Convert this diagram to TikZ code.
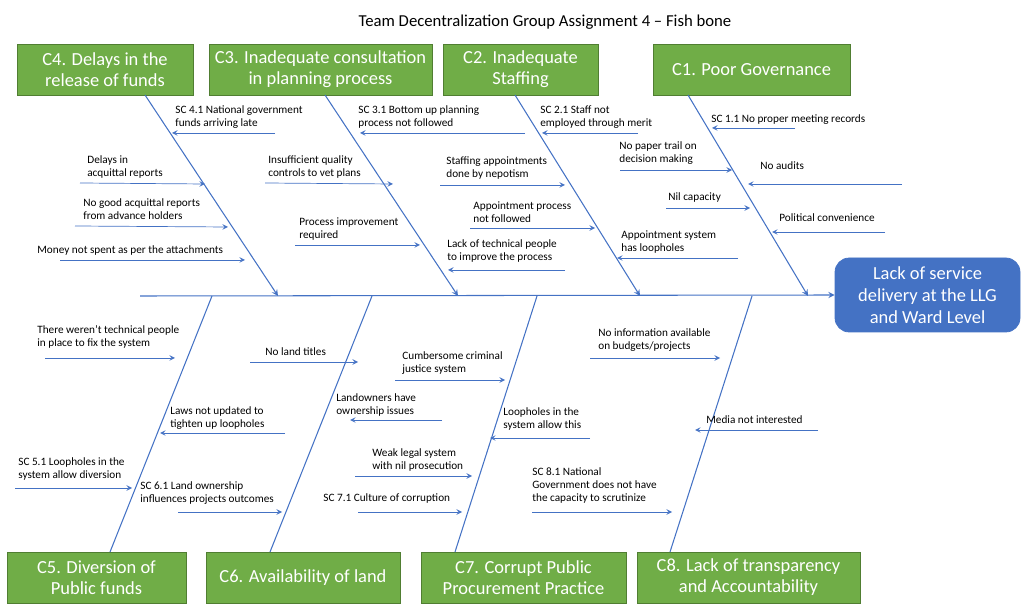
\documentclass[tikz,border=0pt]{standalone}
\usepackage{fontspec}
\setmainfont{Carlito}
\usetikzlibrary{positioning}
\definecolor{boxgreen}{HTML}{70AD47}
\definecolor{boxline}{HTML}{507E32}
\definecolor{bone}{HTML}{4472C4}
\tikzset{
  cause/.style={draw=boxline, fill=boxgreen, text=white, align=center, font=\fontsize{10.5}{12}\selectfont, inner sep=0pt},
  bone/.style={draw=bone, line width=0.6pt},
  sub/.style={draw=bone, ->, >=stealth, line width=0.4pt},
  lbl/.style={anchor=north west, align=left, inner sep=0pt, font=\fontsize{6.4}{7.6}\selectfont}
}
\begin{document}
\begin{tikzpicture}[x=0.02cm, y=-0.02cm]
\useasboundingbox (0,0) rectangle (1024,607);
\node at (545,22) {\fontsize{9.5}{11}\selectfont Team Decentralization Group Assignment 4 -- Fish bone};
% cause boxes
\node[cause, minimum width=176*0.02cm, minimum height=51*0.02cm] (c4) at (105,69.5) {C4. Delays in the\\release of funds};
\node[cause, minimum width=223*0.02cm, minimum height=51*0.02cm] (c3) at (320.5,69.5) {C3. Inadequate consultation\\in planning process};
\node[cause, minimum width=155*0.02cm, minimum height=51*0.02cm] (c2) at (520.5,69.5) {C2. Inadequate\\Staffing};
\node[cause, minimum width=197*0.02cm, minimum height=51*0.02cm] (c1) at (751.5,69.5) {C1. Poor Governance};
\node[cause, minimum width=179*0.02cm, minimum height=51*0.02cm] (c5) at (96.5,577.5) {C5. Diversion of\\Public funds};
\node[cause, minimum width=194*0.02cm, minimum height=51*0.02cm] (c6) at (303,577.5) {C6. Availability of  land};
\node[cause, minimum width=205*0.02cm, minimum height=51*0.02cm] (c7) at (523.5,577.5) {C7. Corrupt Public\\Procurement Practice};
\node[cause, minimum width=223*0.02cm, minimum height=51*0.02cm] (c8) at (748.5,577.5) {C8. Lack of transparency\\and Accountability};
\node[draw=bone, fill=bone, text=white, rounded corners=8pt, align=center, minimum width=185*0.02cm, minimum height=74*0.02cm, font=\fontsize{10.5}{12.5}\selectfont] (head) at (927.5,295) {Lack of service\\delivery at the LLG\\and Ward Level};
% spine and bones
\coordinate (s0) at (140,296);
\draw[bone, ->, >=stealth] (s0) -- (head.west);
\draw[bone, ->, >=stealth] (145,95) -- (278,296);
\draw[bone, ->, >=stealth] (325,95) -- (458,296);
\draw[bone, ->, >=stealth] (515,95) -- (640,296);
\draw[bone, ->, >=stealth] (688,95) -- (808,296);
\draw[bone] (110,552) -- (212,296);
\draw[bone] (270,552) -- (372,296);
\draw[bone] (455,552) -- (537,296);
\draw[bone] (670,552) -- (752,296);
% C4
\node[lbl] (t41) at (175,105) {SC 4.1 National government\\funds arriving late};
\draw[sub] (275,133) -- (172,133);
\node[lbl] (t42) at (87,155) {Delays in\\acquittal reports};
\draw[sub] (80,183) -- (205,184);
\node[lbl] (t43) at (83,198) {No good acquittal reports\\from advance holders};
\draw[sub] (75,226) -- (228,227);
\node[lbl] (t44) at (37,245) {Money not spent as per the attachments};
\draw[sub] (60,260) -- (245,260);
% C3
\node[lbl] (t31) at (358,105) {SC 3.1 Bottom up planning\\process not followed};
\draw[sub] (525,133) -- (360,133);
\node[lbl] (t32) at (268,155) {Insufficient quality\\controls to vet plans};
\draw[sub] (265,183) -- (393,184);
\node[lbl] (t33) at (299,217) {Process improvement\\required};
\draw[sub] (295,245) -- (420,245);
% C2
\node[lbl] (t21) at (540,105) {SC 2.1 Staff not\\employed through merit};
\draw[sub] (638,133) -- (542,133);
\node[lbl] (t22) at (446,156) {Staffing appointments\\done by nepotism};
\draw[sub] (440,185) -- (565,185);
\node[lbl] (t23) at (473,201) {Appointment process\\not followed};
\draw[sub] (470,228) -- (595,228);
\node[lbl] (t24) at (447,239) {Lack of technical people\\to improve the process};
\draw[sub] (565,270) -- (448,270);
\node[lbl] (t25) at (621,230) {Appointment system\\has loopholes};
\draw[sub] (738,258) -- (617,258);
% C1
\node[lbl] (t11) at (711,114) {SC 1.1 No proper meeting records};
\draw[sub] (795,128) -- (712,128);
\node[lbl] (t12) at (619,141) {No paper trail on\\decision making};
\draw[sub] (620,170) -- (732,170);
\node[lbl] (t13) at (760,161) {No audits};
\draw[sub] (902,184) -- (748,184);
\node[lbl] (t14) at (668,192) {Nil capacity};
\draw[sub] (666,208) -- (750,208);
\node[lbl] (t15) at (779,213) {Political convenience};
\draw[sub] (885,232) -- (772,232);
% C5
\node[lbl] (t51) at (37,325) {There weren't technical people\\in place to fix the system};
\draw[sub] (45,358) -- (175,358);
\node[lbl] (t52) at (170,406) {Laws not updated to\\tighten up loopholes};
\draw[sub] (285,433) -- (160,433);
\node[lbl] (t53) at (18,457) {SC 5.1 Loopholes in the\\system allow diversion};
\draw[sub] (15,488) -- (132,488);
\node[lbl] (t54) at (140,481) {SC 6.1 Land ownership\\influences projects outcomes};
\draw[sub] (178,512) -- (282,512);
% C6
\node[lbl] (t61) at (265,347) {No land titles};
\draw[sub] (250,362) -- (358,362);
\node[lbl] (t62) at (336,393) {Landowners have\\ownership issues};
\draw[sub] (442,420) -- (350,420);
% C7
\node[lbl] (t71) at (402,351) {Cumbersome criminal\\justice system};
\draw[sub] (395,380) -- (505,380);
\node[lbl] (t72) at (503,407) {Loopholes in the\\system allow this};
\draw[sub] (590,438) -- (490,438);
\node[lbl] (t73) at (372,448) {Weak legal system\\with nil prosecution};
\draw[sub] (355,476) -- (472,476);
\node[lbl] (t74) at (323,493) {SC 7.1 Culture of corruption};
\draw[sub] (358,512) -- (462,512);
% C8
\node[lbl] (t81) at (598,328) {No information available\\on budgets/projects};
\draw[sub] (590,358) -- (720,358);
\node[lbl] (t82) at (706,415) {Media not interested};
\draw[sub] (818,430) -- (695,430);
\node[lbl] (t83) at (532,467) {SC 8.1 National\\Government does not have\\the capacity to scrutinize};
\draw[sub] (532,512) -- (672,512);
\end{tikzpicture}
\end{document}
